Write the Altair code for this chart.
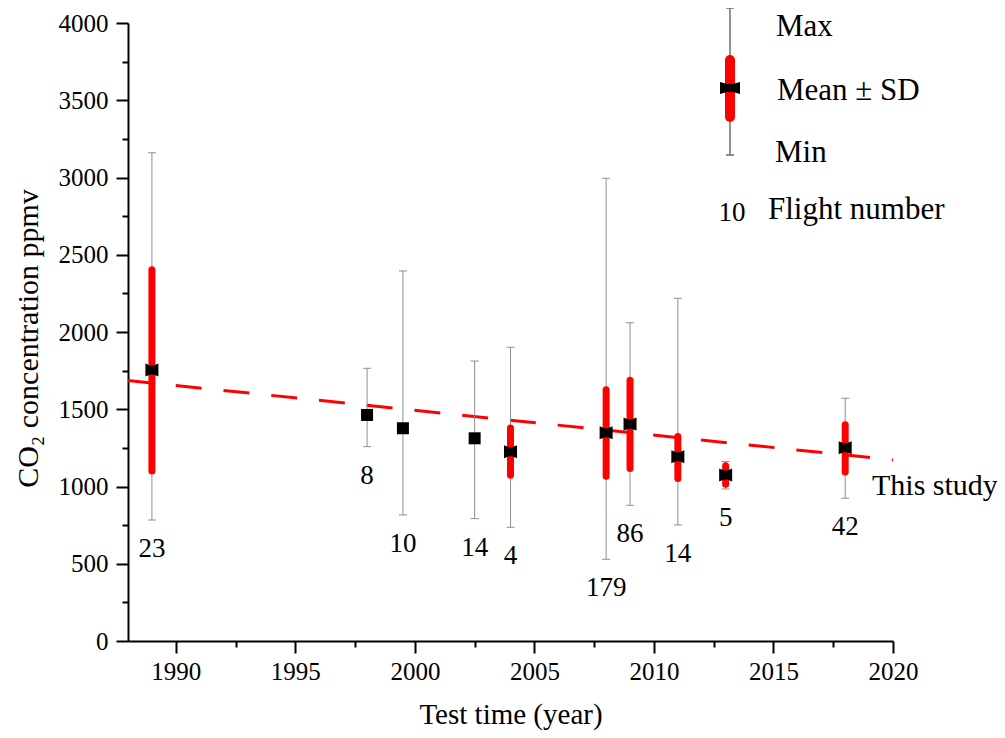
import altair as alt
import pandas as pd

# ---- data ----
years = [1989, 1998, 1999.5, 2002.5, 2004, 2008, 2009, 2011, 2013, 2018]
means = [1754, 1463, 1377, 1312, 1225, 1348, 1404, 1193, 1074, 1251]
maxs = [3160, 1765, 2395, 1812, 1901, 2995, 2060, 2218, 1162, 1571]
mins = [783, 1258, 816, 792, 736, 529, 878, 751, 984, 924]
flights = ["23", "8", "10", "14", "4", "179", "86", "14", "5", "42"]

sd_years = [1989, 2004, 2008, 2009, 2011, 2013, 2018]
sd_means = [1754, 1225, 1348, 1404, 1193, 1074, 1251]
sd_hi = [2403, 1378, 1626, 1687, 1324, 1134, 1399]
sd_lo = [1101, 1073, 1067, 1116, 1051, 1015, 1094]

sq_years = [1998, 1999.5, 2002.5]
sq_means = [1463, 1377, 1312]

trend_years = [1988, 2020]
trend_vals = [1686, 1172]

x_ticks = [1990, 1992.5, 1995, 1997.5, 2000, 2002.5, 2005, 2007.5,
           2010, 2012.5, 2015, 2017.5, 2020]
y_ticks = [0, 250, 500, 750, 1000, 1250, 1500, 1750, 2000, 2250, 2500,
           2750, 3000, 3250, 3500, 3750, 4000]

df = pd.DataFrame({"year": years, "mean": means, "max": maxs, "min": mins,
                   "flights": flights})
sd_df = pd.DataFrame({"year": sd_years, "mean": sd_means,
                      "sd_hi": sd_hi, "sd_lo": sd_lo})
sq_df = pd.DataFrame({"year": sq_years, "mean": sq_means})
trend_df = pd.DataFrame({"year": trend_years, "value": trend_vals})

FONT = "Liberation Serif"
W, H = 765, 618

x_scale = alt.Scale(domain=[1988, 2020], nice=False, zero=False)
y_scale = alt.Scale(domain=[0, 4000], nice=False, zero=False)

common_axis = dict(
    labelFont=FONT, labelFontSize=25, labelColor="black",
    labelFlush=False, labelOverlap=False,
    titleFont=FONT, titleFontWeight="normal", titleColor="black",
    domainColor="black", domainWidth=2, tickColor="black", tickWidth=2, grid=False,
)

x_axis = alt.Axis(
    values=x_ticks, title="Test time (year)",
    labelExpr="datum.value % 5 == 0 ? format(datum.value, 'd') : ''",
    tickSize={"condition": {"test": "datum.value % 5 == 0", "value": 12}, "value": 6},
    labelPadding=6, titleFontSize=29,
    titleX=W / 2, titleY=82, titleAlign="center", titleBaseline="alphabetic",
    **common_axis,
)
y_axis = alt.Axis(
    values=y_ticks, title="CO₂ concentration ppmv",
    labelExpr="datum.value % 500 == 0 ? format(datum.value, 'd') : ''",
    tickSize={"condition": {"test": "datum.value % 500 == 0", "value": 12}, "value": 6},
    labelPadding=8, titleFontSize=30,
    titleX=-91, titleY=H / 2 + 6, titleAngle=-90, titleAlign="center",
    titleBaseline="alphabetic",
    **common_axis,
)


def X(field="year"):
    return alt.X(f"{field}:Q", scale=x_scale, axis=x_axis)


def Y(field):
    return alt.Y(f"{field}:Q", scale=y_scale, axis=y_axis)


GRAY = "#8f8f8f"
RED = "#ff0000"
bowtie = "M-1,-1L-0.25,-0.7L0.25,-0.7L1,-1L1,1L0.25,0.7L-0.25,0.7L-1,1Z"
cap = "M-1,0L1,0"

trend = alt.Chart(trend_df).mark_line(color=RED, strokeWidth=3, strokeDash=[26, 22]).encode(
    x=X(), y=Y("value"))

whisk = alt.Chart(df).mark_rule(color=GRAY, strokeWidth=1).encode(
    x=X(), y=Y("min"), y2="max:Q")
cap_hi = alt.Chart(df).mark_point(shape=cap, size=64, filled=False, stroke=GRAY,
                                  strokeWidth=1, opacity=1).encode(x=X(), y=Y("max"))
cap_lo = alt.Chart(df).mark_point(shape=cap, size=64, filled=False, stroke=GRAY,
                                  strokeWidth=1, opacity=1).encode(x=X(), y=Y("min"))

sd_bar = alt.Chart(sd_df).mark_rule(color=RED, strokeWidth=7, strokeCap="round").encode(
    x=X(), y=Y("sd_lo"), y2="sd_hi:Q")
bow = alt.Chart(sd_df).mark_point(shape=bowtie, size=169, filled=True, color="black",
                                  opacity=1).encode(x=X(), y=Y("mean"))
sq = alt.Chart(sq_df).mark_point(shape="square", size=144, filled=True, color="black",
                                 opacity=1).encode(x=X(), y=Y("mean"))

labels = alt.Chart(df).mark_text(dy=29, baseline="middle", fontSize=27, font=FONT,
                                 color="black").encode(x=X(), y=Y("min"), text="flights:N")

one = alt.Data(values=[{"k": 1}])
this_study = alt.Chart(one).mark_text(text="This study", align="left", baseline="alphabetic",
                                      fontSize=30, font=FONT, color="black").encode(
    x=alt.value(744), y=alt.value(472))

# legend (annotation, pixel placed)
leg_whisk = alt.Chart(one).mark_rule(color="#6e6e6e", strokeWidth=1.5).encode(
    x=alt.value(602), y=alt.value(-15), y2=alt.value(132))
leg_cap1 = alt.Chart(one).mark_point(shape=cap, size=64, filled=False, stroke="#6e6e6e",
                                     strokeWidth=1.5, opacity=1).encode(x=alt.value(602), y=alt.value(-15))
leg_cap2 = alt.Chart(one).mark_point(shape=cap, size=64, filled=False, stroke="#6e6e6e",
                                     strokeWidth=1.5, opacity=1).encode(x=alt.value(602), y=alt.value(132))
leg_bar = alt.Chart(one).mark_rule(color=RED, strokeWidth=10, strokeCap="round").encode(
    x=alt.value(602), y=alt.value(37), y2=alt.value(94))
leg_bow = alt.Chart(one).mark_point(
    shape="M-1,-0.6L-0.3,-0.4L0.3,-0.4L1,-0.6L1,0.6L0.3,0.4L-0.3,0.4L-1,0.6Z",
    size=400, filled=True, color="black", opacity=1).encode(x=alt.value(602), y=alt.value(65))


def leg_text(t, x, y, size=31, align="left"):
    return alt.Chart(one).mark_text(text=t, align=align, baseline="alphabetic", fontSize=size,
                                    font=FONT, color="black").encode(x=alt.value(x), y=alt.value(y))


leg_texts = [
    leg_text("Max", 648, 13),
    leg_text("Mean ± SD", 649, 77),
    leg_text("Min", 647, 139),
    leg_text("10", 604, 198, size=27, align="center"),
    leg_text("Flight number", 640, 196),
]

chart = alt.layer(
    trend, whisk, cap_hi, cap_lo, sd_bar, bow, sq, labels,
    this_study, leg_whisk, leg_cap1, leg_cap2, leg_bar, leg_bow, *leg_texts
).properties(
    width=W, height=H,
    autosize=alt.AutoSizeParams(type="none"),
    padding={"left": 120, "top": 15, "right": 104, "bottom": 89},
).configure_view(stroke=None)

chart.save("out.html", embed_options={"renderer": "svg", "actions": False})
